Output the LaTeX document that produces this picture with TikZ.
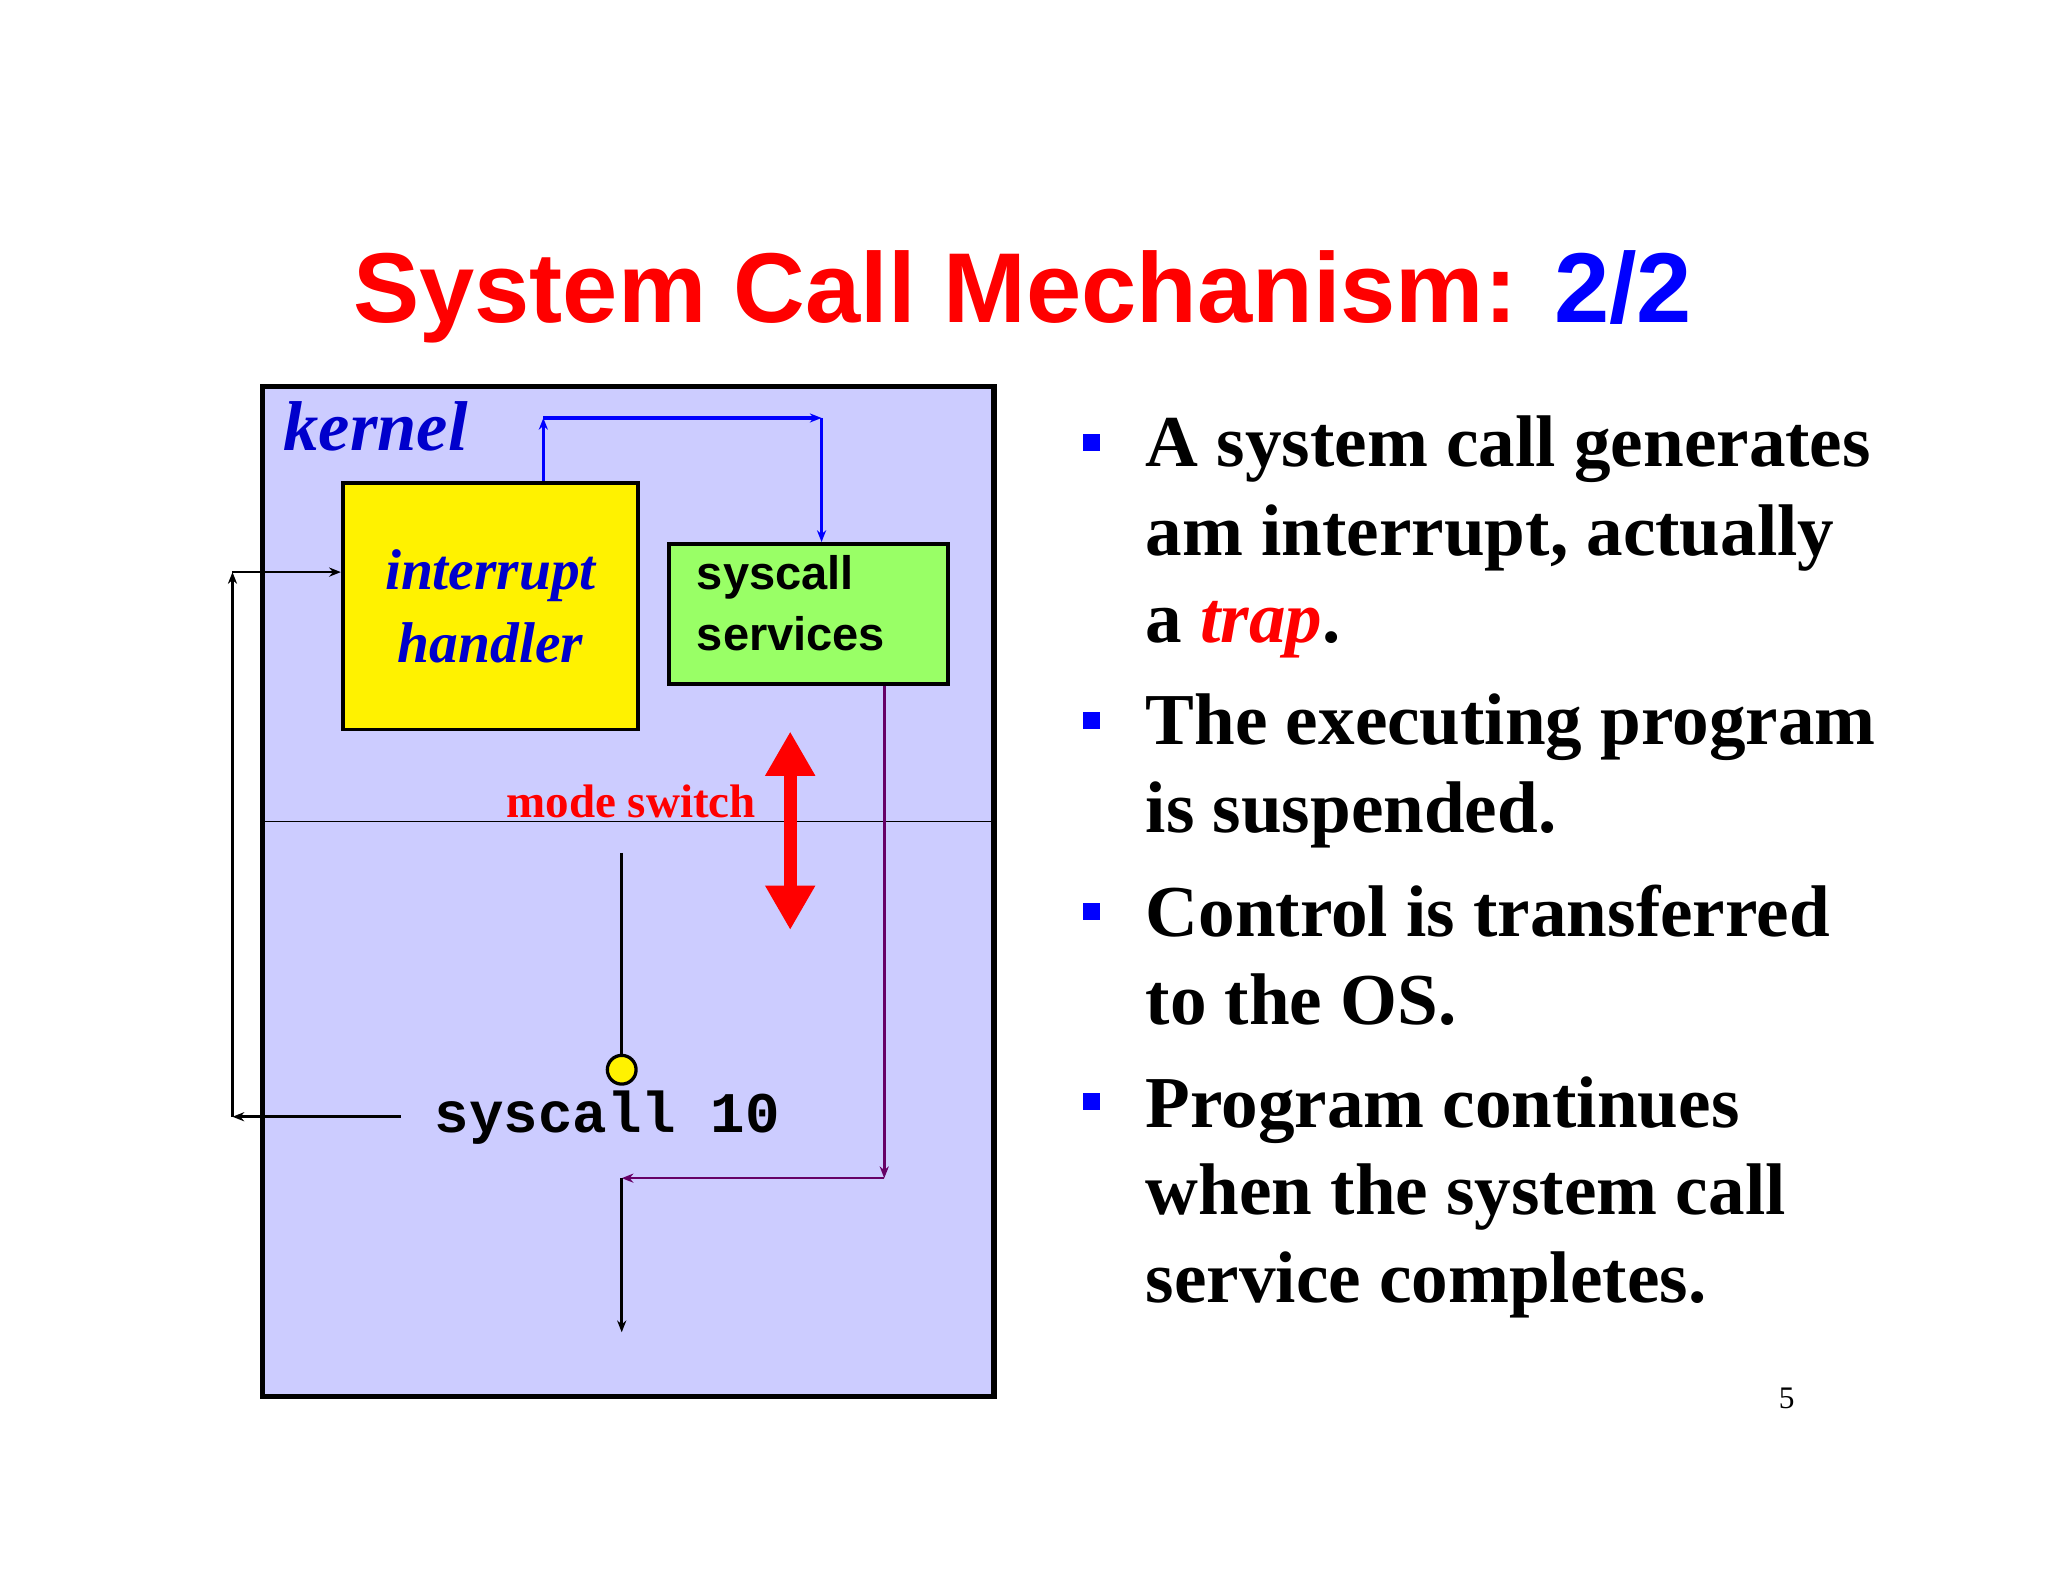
\documentclass[tikz,border=0pt]{standalone}
\usepackage{fontspec}
\setmainfont{Liberation Serif}
\newfontfamily\arial{Liberation Sans}
\newfontfamily\cour{Liberation Mono}
\usetikzlibrary{arrows.meta}
\definecolor{lav}{HTML}{CCCCFF}
\definecolor{kblue}{HTML}{0000CC}
\definecolor{sgreen}{HTML}{99FF66}
\definecolor{purp}{HTML}{660066}
\tikzset{
  box/.style={draw=black,line width=3pt,inner sep=0pt,anchor=north west},
  conn/.style={line width=2pt,-{Stealth[length=9pt,width=7pt]}},
  bul/.style={anchor=base west,inner sep=0pt,font=\fontsize{56}{66}\selectfont\bfseries},
}
\begin{document}
\begin{tikzpicture}[x=1pt,y=-1pt]
\useasboundingbox[fill=white] (0,0) rectangle (1568,1211);
\node[anchor=base,inner sep=0pt,font=\arial\bfseries\fontsize{76}{80}\selectfont,text=red] (title) at (783,247) {System Call Mechanism: \textcolor{blue}{2/2}};
% kernel box
\draw[fill=lav,line width=4pt] (201,296) rectangle (761,1069);
\coordinate (hl) at (201,629); \coordinate (hr) at (761,629);
\draw[line width=1pt] (hl) -- (hr);
\node[anchor=base west,inner sep=0pt,text=kblue,font=\fontsize{54}{60}\selectfont\bfseries\itshape] (kern) at (217,345) {kernel};
\node[box,fill=yellow,minimum width=226pt,minimum height=189pt] (ih) at (261,368) {};
\node[text=kblue,align=center,font=\fontsize{44}{56}\selectfont\bfseries\itshape] at (ih.center) {interrupt\\handler};
\node[box,fill=sgreen,minimum width=213pt,minimum height=107pt] (ss) at (511,415) {};
\node[anchor=west,align=left,font=\arial\bfseries\fontsize{36}{47}\selectfont] at (530,462) {syscall\\services};
% blue arrows
\coordinate (b1) at (416,320); \coordinate (b2) at (629,320);
\draw[conn,draw=blue,line width=2.5pt,-{Stealth[length=9pt,width=7pt]}] (ih.north -| b1) -- (b1);
\draw[conn,draw=blue,line width=2.5pt] (b1) -- (b2);
\draw[conn,draw=blue,line width=2.5pt] (b2) -- (ss.north -| b2);
% purple
\coordinate (p1) at (677,902); \coordinate (p2) at (476,902); \coordinate (p3) at (476,1020);
\draw[conn,draw=purp] (ss.south -| p1) -- (p1);
\draw[conn,draw=purp] (p1) -- (p2);
\draw[conn,draw=black] (p2) -- (p3);
% syscall
\coordinate (s0) at (476,653);
\node[circle,draw=black,fill=yellow,line width=2.5pt,minimum size=22pt,inner sep=0pt] (dot) at (476,819) {};
\draw[line width=2.5pt] (s0) -- (dot.north);
\node[anchor=base,inner sep=0pt,font=\cour\bfseries\fontsize{44}{50}\selectfont] (sc) at (465,867) {syscall 10};
\coordinate (l0) at (307,855); \coordinate (l1) at (178,855); \coordinate (l2) at (178,438);
\draw[conn] (l0) -- (l1);
\draw[conn] (l1) -- (l2);
\draw[conn] (l2) -- (ih.west |- l2);
% mode switch
\coordinate (m1) at (605,560); \coordinate (m2) at (605,712);
\draw[red,line width=10pt,{Triangle[length=34pt,width=36pt]}-{Triangle[length=34pt,width=36pt]}] (m1) -- (m2);
\node[anchor=base east,inner sep=0pt,text=red,font=\fontsize{36}{40}\selectfont\bfseries] (ms) at (579,626) {mode switch};
% bullets
\foreach \y in {338,551,697,843} \fill[blue] (829,\y-6) rectangle +(13,13);
\node[bul] at (877,357) {A system call generates};
\node[bul] at (877,425) {am interrupt, actually};
\node[bul] at (877,492) {a \textcolor{red}{\itshape trap}.};
\node[bul] at (877,570) {The executing program};
\node[bul] at (877,637) {is suspended.};
\node[bul] at (877,717) {Control is transferred};
\node[bul] at (877,784) {to the OS.};
\node[bul] at (877,863) {Program continues};
\node[bul] at (877,930) {when the system call};
\node[bul] at (877,997) {service completes.};
\node[anchor=base,inner sep=0pt,font=\fontsize{24}{28}\selectfont] at (1368,1078) {5};
\end{tikzpicture}
\end{document}
